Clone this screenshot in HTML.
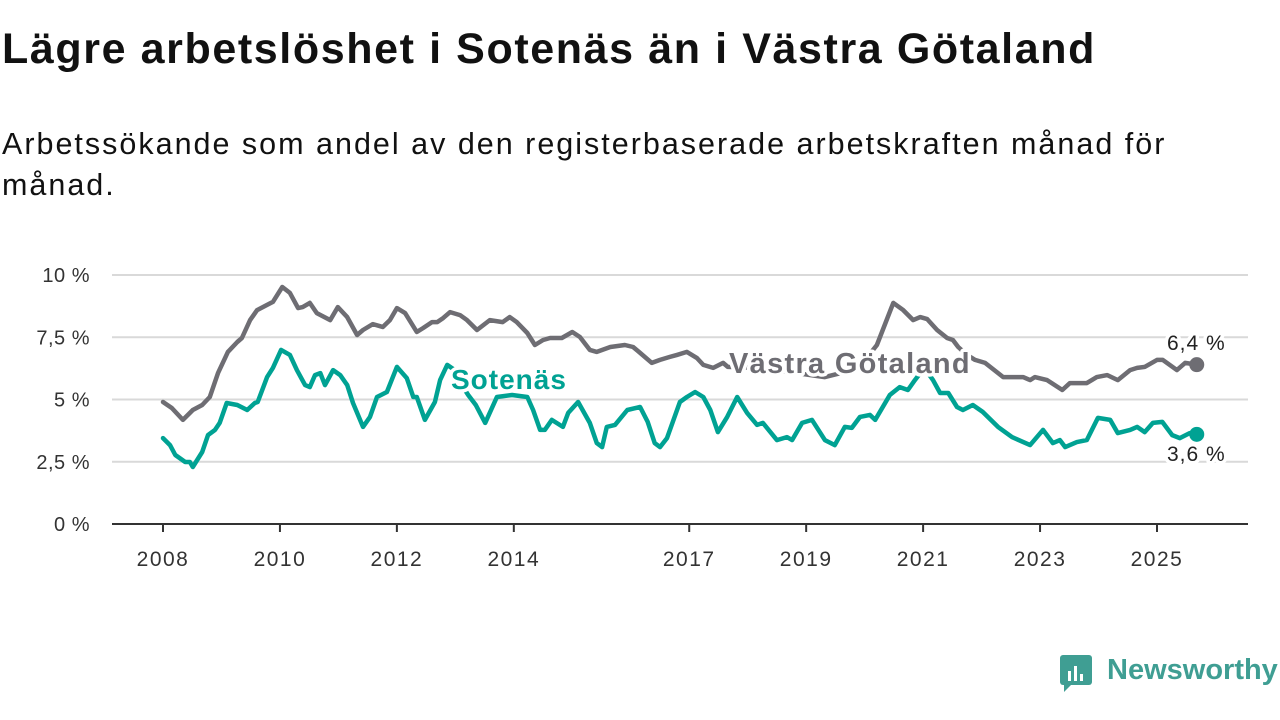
<!DOCTYPE html>
<html><head><meta charset="utf-8">
<style>
body{margin:0;background:#fff;width:1280px;height:720px;overflow:hidden;font-family:"Liberation Sans",sans-serif;}
#title{position:absolute;left:2px;top:25px;font-size:43px;font-weight:bold;color:#111;margin:0;letter-spacing:1.6px;white-space:nowrap;}
#sub{position:absolute;left:2px;top:124px;font-size:30.5px;line-height:41px;color:#111;width:1200px;letter-spacing:2px;}
svg{position:absolute;left:0;top:0;}
</style></head><body>
<h1 id="title">Lägre arbetslöshet i Sotenäs än i Västra Götaland</h1>
<div id="sub">Arbetssökande som andel av den registerbaserade arbetskraften månad för månad.</div>
<svg id="chart" width="1280" height="720"></svg>
<script>
const yTicks=[0,2.5,5,7.5,10];
const yTickLabels=["0 %","2,5 %","5 %","7,5 %","10 %"];
const xTicks=[2008,2010,2012,2014,2017,2019,2021,2023,2025];
const vgYears=[2008,2008.15,2008.34,2008.51,2008.67,2008.8,2008.94,2009.11,2009.27,2009.35,2009.49,2009.61,2009.78,2009.88,2010.04,2010.17,2010.31,2010.39,2010.51,2010.63,2010.86,2010.99,2011.15,2011.32,2011.42,2011.59,2011.76,2011.88,2012,2012.14,2012.34,2012.45,2012.6,2012.69,2012.79,2012.91,2013.08,2013.2,2013.37,2013.59,2013.81,2013.93,2014.05,2014.23,2014.36,2014.5,2014.62,2014.82,2015,2015.13,2015.3,2015.42,2015.65,2015.9,2016.04,2016.16,2016.36,2016.5,2016.67,2016.79,2016.96,2017.13,2017.24,2017.41,2017.58,2017.66,2018.21,2018.72,2019.32,2019.66,2020.01,2020.21,2020.49,2020.66,2020.83,2020.95,2021.07,2021.24,2021.41,2021.51,2021.6,2021.75,2021.89,2022.06,2022.37,2022.71,2022.83,2022.91,2023.12,2023.38,2023.51,2023.8,2023.97,2024.15,2024.33,2024.54,2024.66,2024.79,2025,2025.1,2025.34,2025.48,2025.68];
const vgValues=[4.9,4.66,4.18,4.58,4.78,5.1,6.06,6.91,7.31,7.47,8.19,8.59,8.8,8.92,9.52,9.28,8.67,8.71,8.88,8.47,8.19,8.71,8.31,7.59,7.79,8.03,7.91,8.19,8.67,8.47,7.71,7.87,8.11,8.11,8.27,8.51,8.39,8.19,7.79,8.19,8.11,8.31,8.11,7.67,7.19,7.39,7.47,7.47,7.71,7.51,6.99,6.91,7.11,7.19,7.11,6.87,6.47,6.59,6.71,6.79,6.91,6.67,6.39,6.27,6.47,6.31,6.27,6.1,5.9,6.1,6.59,7.19,8.88,8.59,8.19,8.31,8.23,7.79,7.47,7.39,7.11,6.79,6.59,6.47,5.9,5.9,5.78,5.9,5.78,5.38,5.66,5.66,5.9,5.98,5.78,6.18,6.27,6.31,6.59,6.59,6.18,6.47,6.4];
const soYears=[2008,2008.12,2008.21,2008.38,2008.46,2008.51,2008.67,2008.77,2008.89,2008.97,2009.09,2009.27,2009.44,2009.57,2009.62,2009.78,2009.88,2010.02,2010.17,2010.29,2010.43,2010.51,2010.6,2010.69,2010.77,2010.91,2011.03,2011.15,2011.25,2011.42,2011.54,2011.66,2011.83,2012,2012.17,2012.28,2012.34,2012.48,2012.65,2012.74,2012.86,2012.99,2013.11,2013.22,2013.35,2013.51,2013.71,2013.97,2014.23,2014.33,2014.45,2014.53,2014.65,2014.84,2014.93,2015.1,2015.3,2015.42,2015.51,2015.59,2015.73,2015.94,2016.16,2016.29,2016.41,2016.5,2016.62,2016.84,2016.96,2017.1,2017.24,2017.36,2017.49,2017.65,2017.82,2017.99,2018.16,2018.26,2018.5,2018.67,2018.76,2018.93,2019.1,2019.32,2019.49,2019.66,2019.78,2019.92,2020.09,2020.18,2020.43,2020.6,2020.74,2020.86,2021.02,2021.17,2021.29,2021.43,2021.58,2021.68,2021.85,2022.02,2022.28,2022.52,2022.83,2023.05,2023.22,2023.34,2023.43,2023.63,2023.8,2023.99,2024.2,2024.33,2024.54,2024.66,2024.79,2024.93,2025.09,2025.26,2025.39,2025.56,2025.68];
const soValues=[3.45,3.17,2.77,2.49,2.49,2.29,2.89,3.57,3.78,4.06,4.86,4.78,4.58,4.86,4.9,5.9,6.27,6.99,6.79,6.18,5.58,5.5,5.98,6.06,5.58,6.18,5.98,5.58,4.86,3.9,4.3,5.1,5.3,6.31,5.86,5.1,5.1,4.18,4.9,5.78,6.39,6.18,5.58,5.18,4.78,4.06,5.1,5.18,5.1,4.58,3.78,3.78,4.18,3.9,4.46,4.9,4.06,3.25,3.09,3.9,3.98,4.58,4.7,4.1,3.25,3.09,3.45,4.9,5.1,5.3,5.1,4.58,3.69,4.3,5.1,4.46,3.98,4.06,3.37,3.49,3.37,4.06,4.18,3.37,3.17,3.9,3.86,4.3,4.38,4.18,5.18,5.5,5.38,5.78,6.27,5.78,5.26,5.26,4.7,4.58,4.78,4.5,3.9,3.49,3.17,3.78,3.25,3.37,3.09,3.29,3.37,4.26,4.18,3.65,3.78,3.9,3.69,4.06,4.1,3.57,3.45,3.65,3.6];
const NS="http://www.w3.org/2000/svg";
const svg=document.getElementById('chart');
const X=y=>163+(y-2008)*58.47;
const Y=v=>524-v*24.9;
function mk(t,a,parent){const e=document.createElementNS(NS,t);for(const k in a)e.setAttribute(k,a[k]);(parent||svg).appendChild(e);return e;}
yTicks.forEach((t,i)=>{
 if(t>0){const g=mk('line',{x1:112,x2:1248,y1:Y(t),y2:Y(t),stroke:'#d9d9d9','stroke-width':2});
 
 }
 const l=mk('text',{x:90,y:Y(t)+7,'text-anchor':'end','font-size':20,fill:'#333','font-family':'Liberation Sans, sans-serif','letter-spacing':0.5});
 l.textContent=yTickLabels[i];
 
 
});
const ax=mk('line',{x1:112,x2:1248,y1:524,y2:524,stroke:'#333','stroke-width':2});


xTicks.forEach(t=>{
 const tk=mk('line',{x1:X(t),x2:X(t),y1:524,y2:532,stroke:'#333','stroke-width':2});
 
 
 const l=mk('text',{x:X(t),y:566,'text-anchor':'middle','font-size':21,fill:'#333','font-family':'Liberation Sans, sans-serif','letter-spacing':1.5});
 l.textContent=t;
 
 
});
function line(xs,vs,color,name){
 const d=xs.map((x,i)=>(i?'L':'M')+X(x).toFixed(1)+','+Y(vs[i]).toFixed(1)).join('');
 const p=mk('path',{d:d,fill:'none',stroke:color,'stroke-width':4.5,'stroke-linejoin':'round','stroke-linecap':'round'});
 
 
 const c=mk('circle',{cx:X(xs[xs.length-1]),cy:Y(vs[vs.length-1]),r:7.5,fill:color});
 
 
}
line(vgYears,vgValues,'#6e6d73','vastra-gotaland-line');
line(soYears,soValues,'#00a293','sotenas-line');
function lab(x,y,txt,color,name,bold,size,ls){
 const t=mk('text',{x:x,y:y,'font-size':size,'font-weight':bold?'bold':'normal',fill:color,stroke:'#fff','stroke-width':7,'paint-order':'stroke','stroke-linejoin':'round','font-family':'Liberation Sans, sans-serif','letter-spacing':ls});
 t.textContent=txt;
 
 
}
lab(451,389,'Sotenäs','#00a293','sotenas-label',true,28,1);
lab(729,373,'Västra Götaland','#6e6d73','vastra-gotaland-label',true,29,1.3);
lab(1167,350,'6,4 %','#222','vg-end-value',false,21,1);
lab(1167,461,'3,6 %','#222','sotenas-end-value',false,21,1);
</script>
<div style="position:absolute;left:1060px;top:655px;">
 <svg width="34" height="38" style="position:absolute;left:0;top:0;"><rect x="0" y="0" width="32" height="30" rx="3" fill="#3f9e93"/><path d="M4 30 L4 37 L11 30Z" fill="#3f9e93"/><rect x="8" y="16" width="3" height="10" fill="#fff"/><rect x="14" y="11" width="3" height="15" fill="#fff"/><rect x="20" y="19" width="3" height="7" fill="#fff"/></svg>
 <span style="position:absolute;left:47px;top:-1px;font-size:29px;font-weight:bold;color:#3f9e93;white-space:nowrap;">Newsworthy</span>
</div>
</body></html>
